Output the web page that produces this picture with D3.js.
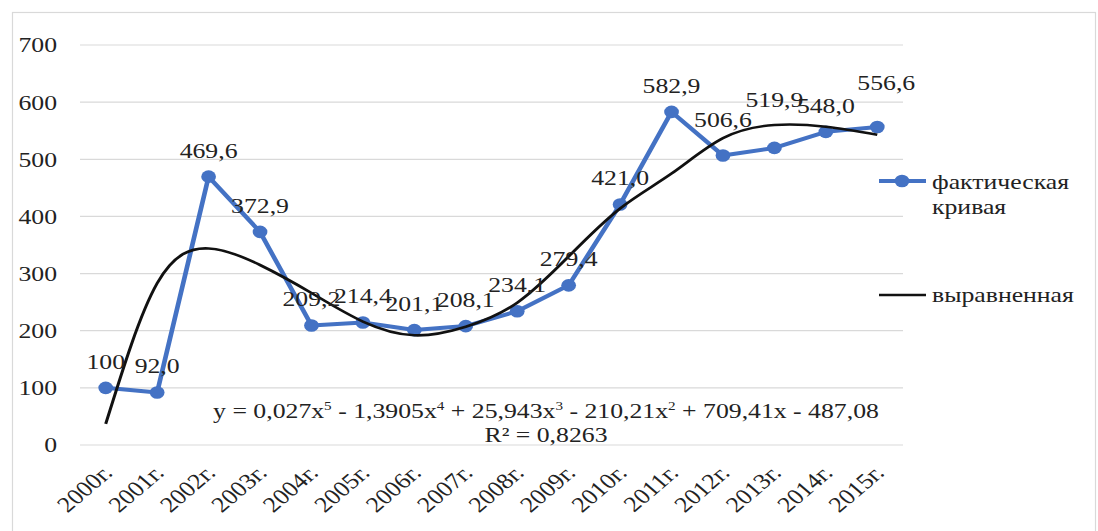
<!DOCTYPE html>
<html>
<head>
<meta charset="utf-8">
<script src="https://cdn.jsdelivr.net/npm/d3@7"></script>
<style>
  html, body { margin: 0; padding: 0; background: #fff; }
  svg text { font-family: "Liberation Serif", "Times New Roman", serif; fill: #222; }
</style>
</head>
<body>
<div id="chart"></div>
<script>
(function() {
    var width = 1098;
    var height = 531;

    // chart data
    var years = ["2000г.", "2001г.", "2002г.", "2003г.", "2004г.", "2005г.", "2006г.", "2007г.",
                 "2008г.", "2009г.", "2010г.", "2011г.", "2012г.", "2013г.", "2014г.", "2015г."];
    var actual = [100, 92.0, 469.6, 372.9, 209.2, 214.4, 201.1, 208.1,
                  234.1, 279.4, 421.0, 582.9, 506.6, 519.9, 548.0, 556.6];
    var labels = ["100", "92,0", "469,6", "372,9", "209,2", "214,4", "201,1", "208,1",
                  "234,1", "279,4", "421,0", "582,9", "506,6", "519,9", "548,0", "556,6"];
    // trend line
    var trend = [37, 283, 344, 315, 266, 216, 192, 207, 249, 330, 414, 475, 537, 560, 557, 543];
    var yTicks = [0, 100, 200, 300, 400, 500, 600, 700];
    var seriesNames = ["фактическая", "кривая", "выравненная"];

    var blue = "#4472c4";
    var sx = 1.17; // picture is stretched horizontally

    // a few labels were dragged by hand in the original: [index, dx px, dy px]
    var labelNudge = { 12: [0, -10], 13: [0, -22], 15: [9, -18] };

    var svg = d3.select("#chart")
        .append("svg")
        .attr("width", width)
        .attr("height", height);

    // outer frame
    svg.append("rect")
        .attr("x", 12.5).attr("y", 12.5)
        .attr("width", 1083).attr("height", 540)
        .attr("fill", "none")
        .attr("stroke", "#d9d9d9")
        .attr("stroke-width", 1.2);

    var g = svg.append("g").attr("transform", "scale(" + sx + ",1)");

    var x = d3.scalePoint()
        .domain(years)
        .range([80 / sx, 903 / sx])
        .padding(0.5);

    var y = d3.scaleLinear()
        .domain([0, 700])
        .range([445, 45]);

    // gridlines
    g.selectAll(".grid")
        .data(yTicks)
        .enter()
        .append("line")
        .attr("x1", 80 / sx).attr("x2", 903 / sx)
        .attr("y1", function(d) { return y(d); })
        .attr("y2", function(d) { return y(d); })
        .attr("stroke", "#d9d9d9")
        .attr("stroke-width", 1.2);

    // y labels
    g.selectAll(".ylab")
        .data(yTicks)
        .enter()
        .append("text")
        .attr("x", 57 / sx)
        .attr("y", function(d) { return y(d); })
        .attr("dy", "0.34em")
        .attr("text-anchor", "end")
        .attr("font-size", 22)
        .text(function(d) { return d; });

    // x labels
    g.selectAll(".xlab")
        .data(years)
        .enter()
        .append("text")
        .attr("transform", function(d) { return "translate(" + (x(d) + 7) + ",474) rotate(-45)"; })
        .attr("text-anchor", "end")
        .attr("font-size", 22)
        .text(function(d) { return d; });

    var trendLine = d3.line()
        .x(function(d, i) { return x(years[i]); })
        .y(function(d) { return y(d); })
        .curve(d3.curveNatural);

    var actLine = d3.line()
        .x(function(d, i) { return x(years[i]); })
        .y(function(d) { return y(d); });

    g.append("path")
        .datum(actual)
        .attr("fill", "none")
        .attr("stroke", blue)
        .attr("stroke-width", 4)
        .attr("stroke-linejoin", "round")
        .attr("d", actLine);

    g.selectAll(".pt")
        .data(actual)
        .enter()
        .append("circle")
        .attr("cx", function(d, i) { return x(years[i]); })
        .attr("cy", function(d) { return y(d); })
        .attr("r", 6.3)
        .attr("fill", blue);

    g.append("path")
        .datum(trend)
        .attr("fill", "none")
        .attr("stroke", "#111")
        .attr("stroke-width", 2.6)
        .attr("d", trendLine);

    // data labels
    g.selectAll(".dl")
        .data(actual)
        .enter()
        .append("text")
        .attr("x", function(d, i) {
            var n = labelNudge[i] ? labelNudge[i][0] : 0;
            return x(years[i]) + n / sx;
        })
        .attr("y", function(d, i) {
            var n = labelNudge[i] ? labelNudge[i][1] : 0;
            return y(d) - 19 + n;
        })
        .attr("text-anchor", "middle")
        .attr("font-size", 22)
        .text(function(d, i) { return labels[i]; });

    // equation
    var eq = g.append("text")
        .attr("x", 546 / sx)
        .attr("y", 418)
        .attr("text-anchor", "middle")
        .attr("font-size", 22);
    var parts = [["y = 0,027x", "5"], [" - 1,3905x", "4"], [" + 25,943x", "3"],
                 [" - 210,21x", "2"], [" + 709,41x - 487,08", null]];
    parts.forEach(function(p, i) {
        eq.append("tspan").attr("dy", i === 0 ? 0 : 8).text(p[0]);
        if (p[1]) {
            eq.append("tspan").attr("font-size", 13).attr("dy", -8).text(p[1]);
        }
    });
    g.append("text")
        .attr("x", 546 / sx)
        .attr("y", 442)
        .attr("text-anchor", "middle")
        .attr("font-size", 22)
        .text("R² = 0,8263");

    // legend
    var lg = g.append("g");
    lg.append("line")
        .attr("x1", 879 / sx).attr("x2", 926 / sx)
        .attr("y1", 181).attr("y2", 181)
        .attr("stroke", blue).attr("stroke-width", 4);
    lg.append("circle")
        .attr("cx", 902 / sx).attr("cy", 181).attr("r", 6.3)
        .attr("fill", blue);
    lg.append("text")
        .attr("x", 932 / sx).attr("y", 189)
        .attr("font-size", 22)
        .text(seriesNames[0]);
    lg.append("text")
        .attr("x", 932 / sx).attr("y", 214)
        .attr("font-size", 22)
        .text(seriesNames[1]);
    lg.append("line")
        .attr("x1", 879 / sx).attr("x2", 926 / sx)
        .attr("y1", 295).attr("y2", 295)
        .attr("stroke", "#111").attr("stroke-width", 2.6);
    lg.append("text")
        .attr("x", 932 / sx).attr("y", 302)
        .attr("font-size", 22)
        .text(seriesNames[2]);
})();
</script>
</body>
</html>
